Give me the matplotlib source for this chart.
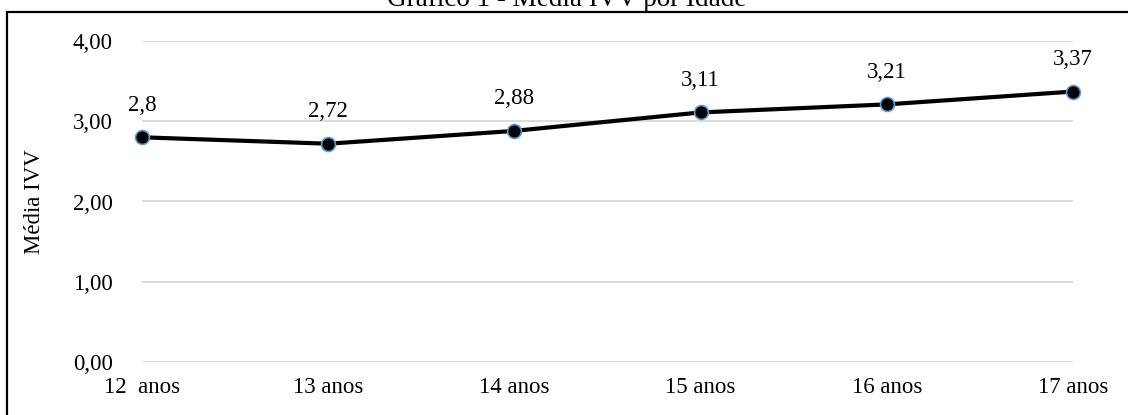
import matplotlib
matplotlib.use("Agg")
import matplotlib.pyplot as plt
from matplotlib.patches import Rectangle

# Average IVV score by age
idades = ["12  anos", "13 anos", "14 anos", "15 anos", "16 anos", "17 anos"]
medias = [2.8, 2.72, 2.88, 3.11, 3.21, 3.37]
rotulos = ["2,8", "2,72", "2,88", "3,11", "3,21", "3,37"]
yticks = [0, 1, 2, 3, 4]
ytick_labels = ["0,00", "1,00", "2,00", "3,00", "4,00"]

plt.rcParams["font.family"] = ["Liberation Serif", "DejaVu Serif"]

W, H = 1128, 415
fig = plt.figure(figsize=(W / 100, H / 100), dpi=100)
ax = fig.add_axes([142 / W, 1 - 362 / H, (1073 - 142) / W, (362 - 41) / H])

x = list(range(len(idades)))
ax.plot(x, medias, color="black", linewidth=3, zorder=3, clip_on=False,
        marker="o", markersize=10, markerfacecolor="black",
        markeredgecolor="#5B9BD5", markeredgewidth=1.2)

for xi, v, t in zip(x, medias, rotulos):
    ax.annotate(t, (xi, v), xytext=(0, 23), textcoords="offset points",
                ha="center", va="center", fontsize=16.5, color="black")

ax.set_xlim(0, len(idades) - 1)
ax.set_ylim(0, 4)
ax.set_yticks(yticks)
ax.set_yticklabels(ytick_labels)
ax.set_xticks(x)
ax.set_xticklabels(idades)
ax.tick_params(axis="both", length=0, labelsize=16.5, colors="black")
ax.tick_params(axis="y", pad=21)
ax.tick_params(axis="x", pad=11)
ax.grid(axis="y", color="#D9D9D9", linewidth=1.3, zorder=0)
ax.set_axisbelow(True)
for s in ax.spines.values():
    s.set_visible(False)

ax.set_ylabel("Média IVV", fontsize=16.5, labelpad=10)
ax.yaxis.set_label_coords(-97 / (1073 - 142), 0.5)

# Chart frame and title
fig.patches.append(Rectangle((7 / W, -0.2), 1.3, 1.2 - 12 / H,
                             transform=fig.transFigure, fill=False,
                             edgecolor="black", linewidth=1.6, clip_on=False))
fig.text(567 / W, 1 - 6 / H, "Gráfico 1 - Média IVV por Idade", ha="center",
         va="baseline", fontsize=19.5)

fig.savefig("out.png", dpi=100)
